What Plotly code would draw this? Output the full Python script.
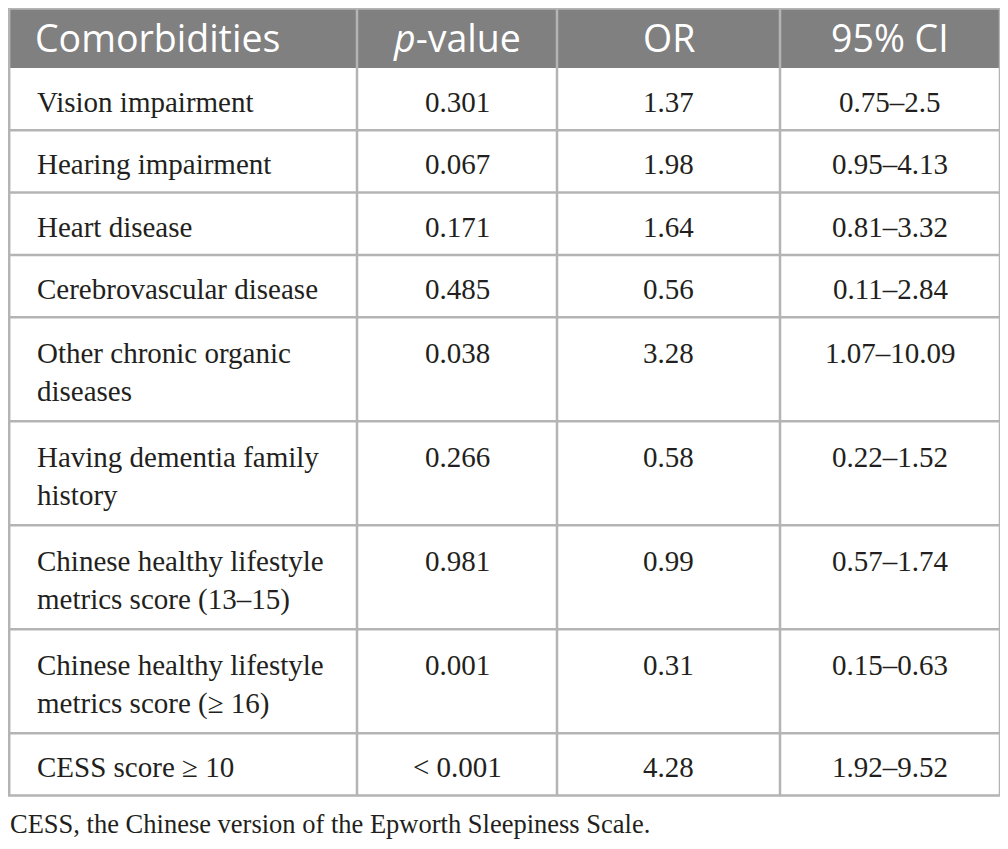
import plotly.graph_objects as go

# ---------------- data ----------------
headers = ["Comorbidities", "<i>p</i>-value", "OR", "95% CI"]
comorbidities = [
    "Vision impairment",
    "Hearing impairment",
    "Heart disease",
    "Cerebrovascular disease",
    "Other chronic organic<br>diseases",
    "Having dementia family<br>history",
    "Chinese healthy lifestyle<br>metrics score (13–15)",
    "Chinese healthy lifestyle<br>metrics score (≥ 16)",
    "CESS score ≥ 10",
]
p_values = ["0.301", "0.067", "0.171", "0.485", "0.038", "0.266", "0.981", "0.001", "< 0.001"]
odds_ratios = ["1.37", "1.98", "1.64", "0.56", "3.28", "0.58", "0.99", "0.31", "4.28"]
ci_95 = ["0.75–2.5", "0.95–4.13", "0.81–3.32", "0.11–2.84", "1.07–10.09",
         "0.22–1.52", "0.57–1.74", "0.15–0.63", "1.92–9.52"]
footnote = "CESS, the Chinese version of the Epworth Sleepiness Scale."

# ---------------- layout constants (window pixel coordinates) ----------------
W, H = 1008, 849
page_margin = 8          # default body margin of the html page
col_edges = [9.2, 357, 557, 780, 1000]
table_top = 8.5
header_bottom = 68
single_h = 62.3
double_h = 104
line_gap = 38
text_dy = 3
text_left = 35
header_left = 33
foot_left = 8
grid_color = "#b4b4b4"
header_bg = "#808080"
text_color = "#231f20"
serif = "Liberation Serif, Times New Roman, serif"
sans = "Open Sans, Lato, sans-serif"
body_size = 29
foot_size = 26.5
header_size = 37.5

columns = [comorbidities, p_values, odds_ratios, ci_95]

fig = go.Figure()
shapes = []
annotations = []

# header background
shapes.append(dict(type="rect", xref="x", yref="y", x0=col_edges[0], x1=col_edges[-1],
                   y0=table_top, y1=header_bottom, fillcolor=header_bg,
                   line=dict(width=0), layer="below"))

# header text
hy = (table_top + header_bottom) / 2 - 1
for i, h in enumerate(headers):
    if i == 0:
        annotations.append(dict(x=header_left, y=hy, text=h, xanchor="left",
                                yanchor="middle", showarrow=False,
                                font=dict(family=sans, size=header_size, color="white")))
    else:
        annotations.append(dict(x=(col_edges[i] + col_edges[i + 1]) / 2, y=hy, text=h,
                                xanchor="center", yanchor="middle", showarrow=False,
                                font=dict(family=sans, size=header_size, color="white")))

# rows
y = header_bottom
row_lines = [y]
for r in range(len(comorbidities)):
    lines = comorbidities[r].split("<br>")
    n = len(lines)
    rh = single_h if n == 1 else double_h
    mid = y + rh / 2 + text_dy
    first_y = mid - (n - 1) * line_gap / 2
    for j, ln in enumerate(lines):
        annotations.append(dict(x=text_left, y=first_y + j * line_gap, text=ln,
                                xanchor="left", yanchor="middle", showarrow=False,
                                font=dict(family=serif, size=body_size, color=text_color)))
    for c in range(1, 4):
        annotations.append(dict(x=(col_edges[c] + col_edges[c + 1]) / 2, y=first_y,
                                text=columns[c][r], xanchor="center", yanchor="middle",
                                showarrow=False,
                                font=dict(family=serif, size=body_size, color=text_color)))
    y += rh
    row_lines.append(y)

table_bottom = y

# horizontal grid lines
for yl in row_lines[1:-1]:
    shapes.append(dict(type="line", xref="x", yref="y", x0=col_edges[0], x1=col_edges[-1],
                       y0=yl, y1=yl, line=dict(color=grid_color, width=2.5)))
# vertical grid lines
for xe in col_edges[1:-1]:
    shapes.append(dict(type="line", xref="x", yref="y", x0=xe, x1=xe,
                       y0=table_top, y1=table_bottom, line=dict(color=grid_color, width=2.5)))
# outer border
shapes.append(dict(type="rect", xref="x", yref="y", x0=col_edges[0], x1=col_edges[-1],
                   y0=table_top, y1=table_bottom, line=dict(color=grid_color, width=2.5)))

# footnote
annotations.append(dict(x=foot_left, y=table_bottom + 28, text=footnote, xanchor="left",
                        yanchor="middle", showarrow=False,
                        font=dict(family=serif, size=foot_size, color=text_color)))

# figure occupies the window minus the page margin; axis ranges map to window pixels
fig.update_layout(
    width=W - 2 * page_margin, height=H - 2 * page_margin,
    margin=dict(l=0, r=0, t=0, b=0),
    paper_bgcolor="white", plot_bgcolor="white",
    xaxis=dict(range=[page_margin, W - page_margin], visible=False, fixedrange=True),
    yaxis=dict(range=[H - page_margin, page_margin], visible=False, fixedrange=True),
    shapes=shapes, annotations=annotations, showlegend=False,
)

fig.write_html("out.html")
